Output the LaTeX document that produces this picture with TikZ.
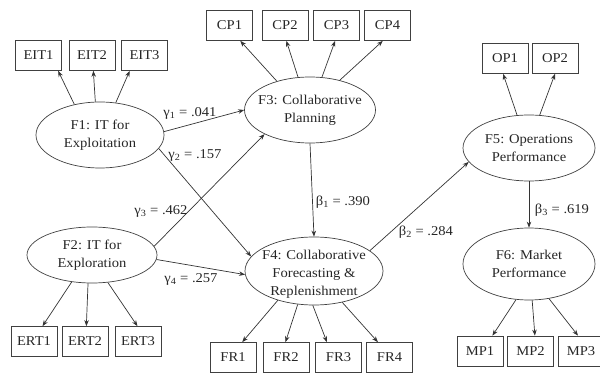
\documentclass[tikz,border=0pt]{standalone}
\usepackage{fontspec}
\setmainfont{Liberation Serif}[FakeStretch=1.08]
\usetikzlibrary{shapes.geometric,arrows.meta}

\tikzset{
  ind/.style={draw=black!75, line width=0.7pt, minimum width=46pt, minimum height=30pt, inner sep=0pt, text=black!85},
  lat/.style={ellipse, draw=black!75, line width=0.7pt, inner sep=0pt},
  lattext/.style={align=center, inner sep=0pt, text=black!85},
  arr/.style={draw=black!80, line width=0.7pt, -{Stealth[length=6pt,width=4.5pt]}},
  coef/.style={inner sep=0pt, text=black!85}
}

\begin{document}
\begin{tikzpicture}[x=1pt,y=-1pt,font=\fontsize{13.5}{18}\selectfont]
		\useasboundingbox (0,0) rectangle (600,374);
		% latent factors
		\node [lat, minimum width=128pt, minimum height=66pt, label={[lattext]center:{F1: IT for\\Exploitation}}] (F1) at (100,135) {};
		\node [lat, minimum width=130pt, minimum height=56pt, label={[lattext]center:{F2: IT for\\Exploration}}] (F2) at (92,255) {};
		\node [lat, minimum width=131pt, minimum height=66pt, label={[lattext]center:{F3: Collaborative\\Planning}}] (F3) at (310,110) {};
		\node [lat, minimum width=138pt, minimum height=68pt, label={[lattext,yshift=-3pt]center:{F4: Collaborative\\Forecasting \&\\Replenishment}}] (F4) at (314,271) {};
		\node [lat, minimum width=132pt, minimum height=66pt, label={[lattext]center:{F5: Operations\\Performance}}] (F5) at (529,148) {};
		\node [lat, minimum width=132pt, minimum height=72pt, label={[lattext]center:{F6: Market\\Performance}}] (F6) at (529,264) {};
		% indicators
		\node [ind] (EIT1) at (38.5,55.5) {EIT1};
		\node [ind] (EIT2) at (92,55.5) {EIT2};
		\node [ind] (EIT3) at (144.5,55.5) {EIT3};
		\node [ind] (CP1) at (229.5,25.5) {CP1};
		\node [ind] (CP2) at (285,25.5) {CP2};
		\node [ind] (CP3) at (336.5,25.5) {CP3};
		\node [ind] (CP4) at (387.5,25.5) {CP4};
		\node [ind] (OP1) at (505,58.5) {OP1};
		\node [ind] (OP2) at (555,58.5) {OP2};
		\node [ind] (ERT1) at (34,341.5) {ERT1};
		\node [ind] (ERT2) at (85,341.5) {ERT2};
		\node [ind] (ERT3) at (138,341.5) {ERT3};
		\node [ind] (FR1) at (233,357.5) {FR1};
		\node [ind] (FR2) at (286,357.5) {FR2};
		\node [ind] (FR3) at (338.5,357.5) {FR3};
		\node [ind] (FR4) at (389.5,357.5) {FR4};
		\node [ind] (MP1) at (480,351) {MP1};
		\node [ind] (MP2) at (530.5,351) {MP2};
		\node [ind] (MP3) at (581,351) {MP3};
		% measurement arrows
		\draw [arr] (F1.130) -- (EIT1.-38);
		\draw [arr] (F1.98) -- (EIT2.-85);
		\draw [arr] (F1.64) -- (EIT3.226);
		\draw [arr] (F3.139) -- (CP1.-55);
		\draw [arr] (F3.110) -- (CP2.-85);
		\draw [arr] (F3.70) -- (CP3.-95);
		\draw [arr] (F3.45) -- (CP4.-107);
		\draw [arr] (F5.110) -- (OP1.-97);
		\draw [arr] (F5.72) -- (OP2.-90);
		\draw [arr] (F2.233) -- (ERT1.61);
		\draw [arr] (F2.262) -- (ERT2.85);
		\draw [arr] (F2.300) -- (ERT3.92);
		\draw [arr] (F4.219) -- (FR1.59);
		\draw [arr] (F4.244) -- (FR2.92);
		\draw [arr] (F4.268) -- (FR3.127);
		\draw [arr] (F4.312) -- (FR4.127);
		\draw [arr] (F6.250) -- (MP1.51);
		\draw [arr] (F6.275) -- (MP2.74);
		\draw [arr] (F6.300) -- (MP3.101);
		% structural paths
		\draw [arr] (F1.3) -- (F3.180);
		\draw [arr] (F1.-13) -- (F4.167);
		\draw [arr] (F2.8) -- (F3.208);
		\draw [arr] (F2.-4) -- (F4.183);
		\draw [arr] (F3.south) -- (F4.north);
		\draw [arr] (F4.20) -- (F5.193);
		\draw [arr] (F5.south) -- (F6.north);
		% path coefficients
		\node [coef] (g1) at (190,113) {γ\textsubscript{1} = .041};
		\node [coef] (g2) at (195,155) {γ\textsubscript{2} = .157};
		\node [coef] (g3) at (161,211) {γ\textsubscript{3} = .462};
		\node [coef] (g4) at (191,279) {γ\textsubscript{4} = .257};
		\node [coef] (b1) at (343,202) {β\textsubscript{1} = .390};
		\node [coef] (b2) at (426,232) {β\textsubscript{2} = .284};
		\node [coef] (b3) at (562,210) {β\textsubscript{3} = .619};
\end{tikzpicture}
\end{document}
